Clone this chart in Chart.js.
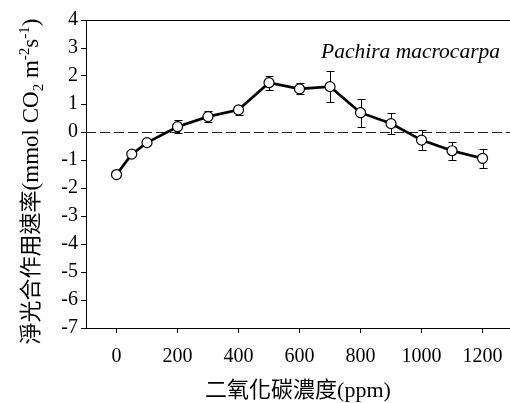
<!DOCTYPE html>
<html>
<head>
<meta charset="utf-8">
<script src="https://cdn.jsdelivr.net/npm/chart.js@4.4.1/dist/chart.umd.min.js"></script>
<style>
  html, body { margin: 0; padding: 0; background: #fff; overflow: hidden; }
</style>
</head>
<body>
<canvas id="chart" width="510" height="403"></canvas>
<script>
// CO2 concentration (ppm) and net photosynthesis
var co2 = [0, 50, 100, 200, 300, 400, 500, 600, 700, 800, 900, 1000, 1100, 1200];
var rate = [-1.52, -0.79, -0.38, 0.19, 0.55, 0.79, 1.76, 1.54, 1.62, 0.69, 0.30, -0.29, -0.67, -0.94];
var rateErr = [0, 0, 0, 0.24, 0.2, 0.17, 0.25, 0.2, 0.56, 0.5, 0.37, 0.35, 0.33, 0.35];
var xTicks = [0, 200, 400, 600, 800, 1000, 1200];
var yMin = -7, yMax = 4;

var speciesName = 'Pachira macrocarpa';
var xTitle = '二氧化碳濃度(ppm)';
// y title pieces: normal text, subscript, superscript
var yTitleParts = [
  ['淨光合作用速率', 'cjk'],
  ['(mmol CO', 'n'],
  ['2', 'sub'],
  [' m', 'n'],
  ['-2', 'sup'],
  ['s', 'n'],
  ['-1', 'sup'],
  [')', 'n']
];

var serif = "'Liberation Serif', 'Times New Roman', serif";
var cjk = "'Noto Sans CJK TC', 'Noto Sans CJK SC', sans-serif";

function crisp(v) { return Math.round(v) + 0.5; }

var extras = {
  id: 'extras',
  beforeDatasetsDraw: function(chart) {
    var ctx = chart.ctx, xs = chart.scales.x, ys = chart.scales.y, area = chart.chartArea;
    ctx.save();
    // dashed zero line
    var y0 = crisp(ys.getPixelForValue(0));
    ctx.strokeStyle = '#222';
    ctx.lineWidth = 1;
    ctx.setLineDash([10, 4]);
    ctx.beginPath();
    ctx.moveTo(area.left, y0);
    ctx.lineTo(area.right, y0);
    ctx.stroke();
    ctx.setLineDash([]);

    // error bars
    ctx.strokeStyle = '#000';
    for (var i = 0; i < co2.length; i++) {
      if (!rateErr[i]) continue;
      var px = crisp(xs.getPixelForValue(co2[i]));
      var top = crisp(ys.getPixelForValue(rate[i] + rateErr[i]));
      var bot = crisp(ys.getPixelForValue(rate[i] - rateErr[i]));
      ctx.beginPath();
      ctx.moveTo(px, top); ctx.lineTo(px, bot);
      ctx.moveTo(px - 4, top); ctx.lineTo(px + 4, top);
      ctx.moveTo(px - 4, bot); ctx.lineTo(px + 4, bot);
      ctx.stroke();
    }
    ctx.restore();
  },
  afterDraw: function(chart) {
    var ctx = chart.ctx, area = chart.chartArea;
    ctx.save();
    // top frame line
    ctx.strokeStyle = '#000';
    ctx.lineWidth = 1;
    ctx.beginPath();
    ctx.moveTo(area.left, crisp(area.top));
    ctx.lineTo(area.right, crisp(area.top));
    ctx.stroke();

    // species name
    ctx.fillStyle = '#000';
    ctx.font = 'italic 21.5px ' + serif;
    ctx.textAlign = 'right';
    ctx.textBaseline = 'alphabetic';
    ctx.fillText(speciesName, 500, 58);

    // rotated y title with sub/superscripts
    function fontFor(kind) {
      if (kind === 'cjk') return '22px ' + cjk;
      if (kind === 'sub' || kind === 'sup') return '15px ' + serif;
      return '23px ' + serif;
    }
    var total = 0;
    yTitleParts.forEach(function(p) {
      ctx.font = fontFor(p[1]);
      total += ctx.measureText(p[0]).width;
    });
    ctx.translate(38, 181.5);
    ctx.rotate(-Math.PI / 2);
    ctx.textAlign = 'left';
    var u = -total / 2;
    yTitleParts.forEach(function(p) {
      ctx.font = fontFor(p[1]);
      var v = p[1] === 'sub' ? 5 : (p[1] === 'sup' ? -9 : 0);
      ctx.fillText(p[0], u, v);
      u += ctx.measureText(p[0]).width;
    });
    ctx.restore();
  }
};

new Chart(document.getElementById('chart'), {
  type: 'line',
  data: {
    datasets: [{
      data: co2.map(function(x, i) { return {x: x, y: rate[i]}; }),
      borderColor: '#000',
      borderWidth: 2.7,
      tension: 0,
      pointRadius: 5,
      pointHoverRadius: 5,
      pointBackgroundColor: '#fff',
      pointBorderColor: '#000',
      pointBorderWidth: 1.2
    }]
  },
  options: {
    responsive: false,
    animation: false,
    devicePixelRatio: 1,
    layout: { autoPadding: false, padding: { top: 20, left: 0, right: 0, bottom: 0 } },
    plugins: {
      legend: { display: false },
      tooltip: { enabled: false }
    },
    scales: {
      x: {
        type: 'linear',
        min: -100,
        max: 1290,
        afterBuildTicks: function(s) { s.ticks = xTicks.map(function(v) { return {value: v}; }); },
        afterFit: function(s) {
          s.height = 75;
          s.paddingLeft = 0;
          s.paddingRight = 0;
        },
        grid: { drawOnChartArea: false, tickLength: 5, color: '#000' },
        border: { display: true, color: '#000', width: 1 },
        ticks: {
          font: { family: serif, size: 20 },
          color: '#000',
          padding: 12,
          maxRotation: 0,
          autoSkip: false,
          callback: function(v) { return String(v); }
        },
        title: {
          display: true,
          text: xTitle,
          color: '#000',
          font: { family: serif + ', ' + cjk, size: 22, lineHeight: 1 },
          padding: { top: 0, bottom: 1 }
        }
      },
      y: {
        min: yMin,
        max: yMax,
        afterFit: function(s) { s.width = 86; },
        grid: { drawOnChartArea: false, tickLength: 5, color: '#000' },
        border: { display: true, color: '#000', width: 1 },
        ticks: { stepSize: 1, font: { family: serif, size: 20 }, color: '#000', padding: 3 }
      }
    }
  },
  plugins: [extras]
});
</script>
</body>
</html>
